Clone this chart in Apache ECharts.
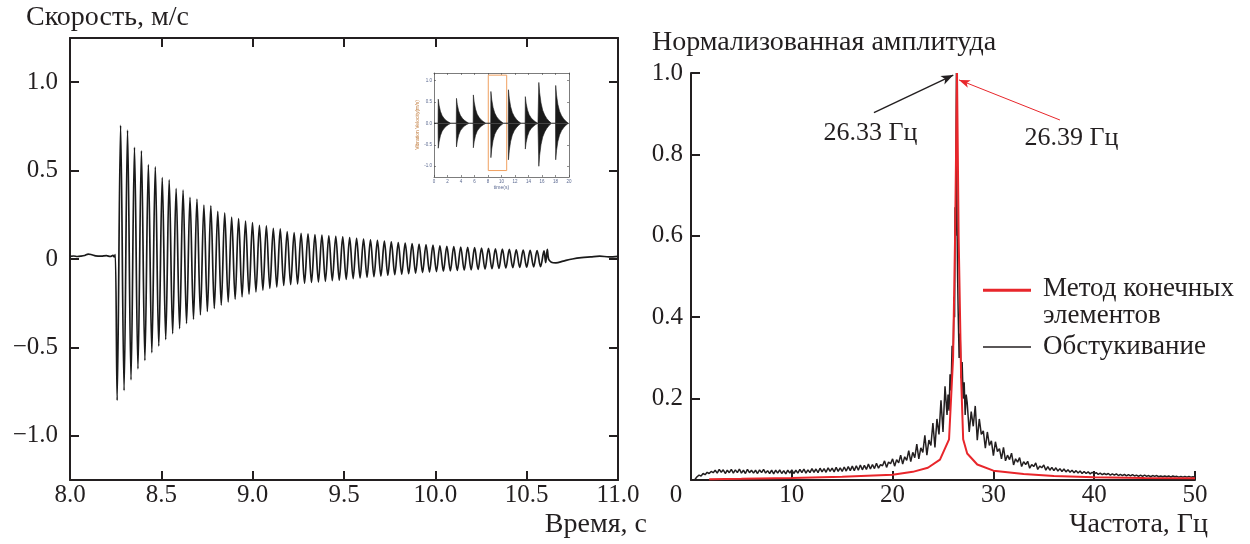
<!DOCTYPE html>
<html><head><meta charset="utf-8">
<script src="https://cdn.jsdelivr.net/npm/echarts@6/dist/echarts.min.js"></script>
<style>html,body{margin:0;padding:0;background:#fff}#c{width:1250px;height:544px}</style>
</head><body><div id="c"></div>
<script>
// ---------------- data: left panel (velocity, m/s vs time, s) ----------------
const velocityTicks = [-1.0, -0.5, 0, 0.5, 1.0];
const preImpact = [[8.0,0.015],[8.02,0.017],[8.04,0.014],[8.06,0.016],[8.08,0.02],[8.1,0.028],[8.12,0.024],[8.14,0.018],[8.17,0.016],[8.2,0.019],[8.22,0.014],[8.235,0.02],[8.242,0.012],[8.248,0.025]];
const firstExtremumTime = 8.258;   // first trough
const halfPeriod = 0.019;          // ~26.3 Hz ringing
const troughValues = [
 -0.800,-0.744,-0.684,-0.621,-0.574,-0.530,-0.492,-0.456,-0.422,-0.394,
 -0.365,-0.341,-0.316,-0.297,-0.280,-0.261,-0.243,-0.227,-0.214,-0.199,
 -0.186,-0.176,-0.166,-0.158,-0.150,-0.145,-0.141,-0.137,-0.133,-0.130,
 -0.126,-0.122,-0.119,-0.115,-0.111,-0.107,-0.103,-0.100,-0.096,-0.092,
 -0.089,-0.086,-0.083,-0.080,-0.077,-0.074,-0.071,-0.069,-0.067,-0.065,
 -0.063,-0.061,-0.059,-0.057,-0.055,-0.053,-0.051,-0.049,-0.047,-0.046,
 -0.044,-0.043];
const peakValues = [
 0.756,0.729,0.632,0.612,0.534,0.521,0.460,0.447,0.398,0.390,
 0.348,0.339,0.305,0.300,0.269,0.261,0.237,0.229,0.214,0.206,
 0.191,0.188,0.174,0.170,0.155,0.149,0.145,0.142,0.138,0.135,
 0.131,0.128,0.125,0.121,0.117,0.113,0.109,0.105,0.101,0.097,
 0.093,0.090,0.087,0.084,0.081,0.078,0.075,0.072,0.070,0.068,
 0.066,0.064,0.062,0.060,0.058,0.056,0.054,0.052,0.050,0.049,
 0.047,0.046];
const postImpact = [[10.604,-0.02],[10.613,0.055],[10.62,0.0],[10.635,-0.018],[10.66,-0.022],[10.7,-0.012],[10.75,0.0],[10.8,0.008],[10.85,0.012],[10.9,0.016],[10.95,0.012],[11.0,0.015]];

// ---------------- data: inset (original record, 0-20 s) ----------------
const insetVelTicks = [-1.0, -0.5, 0, 0.5, 1.0];
const insetBurstStart = [0.6, 3.3, 5.8, 8.4, 11.0, 13.5, 15.5, 18.0];
const insetBurstUp = [0.56, 0.58, 0.66, 0.74, 0.78, 0.62, 0.95, 0.88];
const insetBurstDown = [-0.58, -0.55, -0.57, -0.80, -0.85, -0.60, -1.00, -0.85];
const insetDecayShape = [[0,0],[0.03,1],[0.15,0.75],[0.35,0.5],[0.6,0.32],[0.9,0.2],[1.2,0.12],[1.5,0.06],[1.9,0.0]];
const insetWindow = [[8.04,1.12],[10.77,-1.10]];

// ---------------- data: right panel (normalized amplitude vs frequency) ----------------
const knockLowStart = 0.4, knockHighStart = 27.4, knockStep = 0.2;
const knockLow = [
 0.002,0.008,0.012,0.010,0.016,0.013,0.019,0.016,0.021,0.018,
 0.024,0.017,0.026,0.019,0.025,0.016,0.024,0.018,0.026,0.017,
 0.025,0.018,0.027,0.017,0.024,0.016,0.026,0.018,0.024,0.017,
 0.024,0.016,0.025,0.018,0.026,0.017,0.023,0.016,0.024,0.015,
 0.024,0.017,0.025,0.016,0.023,0.015,0.024,0.017,0.025,0.016,
 0.024,0.017,0.026,0.018,0.027,0.017,0.025,0.018,0.028,0.019,
 0.027,0.018,0.029,0.020,0.028,0.019,0.030,0.021,0.029,0.020,
 0.031,0.021,0.030,0.021,0.032,0.022,0.033,0.023,0.034,0.023,
 0.035,0.024,0.037,0.025,0.036,0.026,0.039,0.027,0.038,0.028,
 0.041,0.029,0.038,0.035,0.047,0.031,0.044,0.040,0.052,0.034,
 0.050,0.042,0.061,0.039,0.057,0.048,0.072,0.045,0.068,0.055,
 0.088,0.052,0.079,0.068,0.110,0.061,0.098,0.085,0.140,0.080,
 0.150,0.112,0.196,0.118,0.230,0.160];
const knockPeak = [[25.5,0.21],[25.6,0.17],[25.7,0.26],[25.8,0.22],[25.9,0.33],[26.0,0.30],[26.1,0.45],[26.15,0.40],[26.2,0.67],[26.25,0.60],[26.3,0.85],[26.33,1.0],[26.36,0.80],[26.4,0.62],[26.45,0.50],[26.5,0.42],[26.6,0.30],[26.7,0.36],[26.8,0.25],[26.9,0.29],[27.0,0.20],[27.1,0.24],[27.2,0.16],[27.3,0.21]];
const knockHigh = [
 0.190,0.118,0.168,0.132,0.182,0.098,0.150,0.112,0.121,0.078,
 0.118,0.085,0.096,0.060,0.094,0.070,0.077,0.052,0.080,0.047,
 0.061,0.050,0.066,0.037,0.052,0.044,0.055,0.033,0.045,0.038,
 0.046,0.029,0.038,0.033,0.042,0.026,0.034,0.030,0.037,0.024,
 0.033,0.024,0.031,0.023,0.030,0.022,0.028,0.021,0.027,0.020,
 0.025,0.019,0.024,0.018,0.023,0.017,0.022,0.016,0.021,0.016,
 0.020,0.015,0.019,0.015,0.018,0.014,0.017,0.013,0.016,0.013,
 0.016,0.012,0.015,0.012,0.015,0.011,0.014,0.011,0.014,0.010,
 0.013,0.010,0.013,0.010,0.012,0.009,0.012,0.009,0.012,0.009,
 0.011,0.008,0.011,0.009,0.011,0.008,0.010,0.008,0.010,0.008,
 0.010,0.007,0.010,0.008,0.009,0.007,0.009,0.007,0.009,0.007,
 0.009,0.007,0.008,0.007];
const femSpectrum = [[1.8,0.002],[5,0.003],[10,0.005],[15,0.008],[20,0.013],[22,0.02],[23.5,0.03],[24.7,0.05],[25.6,0.1],[26.0,0.3],[26.2,0.6],[26.39,1.0],[26.55,0.6],[26.8,0.25],[27.0,0.1],[27.4,0.065],[28.4,0.038],[30,0.023],[33,0.015],[36,0.01],[40,0.007],[45,0.005],[50,0.004]];
const peakNotes = [
  {text:'26.33 Гц', from:[18.15,0.9025], to:[26.02,0.995], at:[17.81,0.8526]},
  {text:'26.39 Гц', from:[36.6,0.8845], to:[26.59,0.983], at:[37.75,0.840]}
];
const seriesNames = ['Метод конечных элементов', 'Обстукивание'];

// ---------------- build ----------------
const FONT = 'Liberation Serif';
const INK = '#231f20';
const RED = '#e8262b';

const velocityData = [];
preImpact.forEach(p => velocityData.push(p));
for (let i = 0; i < troughValues.length; i++) {
  velocityData.push([firstExtremumTime + 2*i*halfPeriod, troughValues[i]]);
  velocityData.push([firstExtremumTime + (2*i+1)*halfPeriod, peakValues[i]]);
}
postImpact.forEach(p => velocityData.push(p));

function insetEnvelope(amps) {
  const pts = [[0,0]];
  insetBurstStart.forEach((s,k) => insetDecayShape.forEach(([dt,r]) => pts.push([s+dt, amps[k]*r])));
  pts.push([20,0]);
  return pts;
}

const knockData = [];
knockLow.forEach((v,i) => knockData.push([knockLowStart + i*knockStep, v]));
knockPeak.forEach(p => knockData.push(p));
knockHigh.forEach((v,i) => knockData.push([knockHighStart + i*knockStep, v]));

function velLabel(v) {
  if (Math.abs(v) < 1e-9) return '0';
  return (v < 0 ? '\u2212' : '') + Math.abs(v).toFixed(1);
}

const tickFont = {fontFamily: FONT, fontSize: 25, color: INK};
const axisLine = {show: true, onZero: false, lineStyle: {color: INK, width: 2}};
const axisTick = {show: true, inside: true, length: 9, lineStyle: {color: INK, width: 2}};
const insetLine = {show: true, onZero: false, lineStyle: {color: '#444', width: 0.7}};
const insetTick = {show: true, inside: true, length: 2, lineStyle: {color: '#444', width: 0.6}};
const insetFont = {fontFamily: 'Liberation Sans', fontSize: 4.5, color: '#5a6890', margin: 2};

const titleBase = {padding: 0, textStyle: {fontFamily: FONT, fontSize: 28, fontWeight: 'normal', color: INK}};
const legendText = {fontFamily: FONT, fontSize: 27, lineHeight: 27, color: INK, padding: [0,0,0,7]};

const option = {
  animation: false,
  backgroundColor: '#fff',
  title: [
    Object.assign({text: 'Скорость, м/с', left: 26, top: 4}, titleBase),
    Object.assign({text: 'Нормализованная амплитуда', left: 652, top: 29}, titleBase),
    Object.assign({text: 'Время, с', right: 603, top: 511}, titleBase),
    Object.assign({text: 'Частота, Гц', right: 42, top: 511}, titleBase)
  ],
  legend: [
    {
      data: [{name: seriesNames[0], icon: 'path://M0,13.8L48,13.8L48,16.8L0,16.8Z M0,0L0.05,0L0.05,0.05Z M0,54L0.05,54L0.05,53.95Z'}],
      left: 983, top: 275, padding: 0, orient: 'vertical', selectedMode: false,
      itemWidth: 48, itemHeight: 54, itemStyle: {borderWidth: 0},
      formatter: n => n.replace(' элементов', '\nэлементов'),
      textStyle: legendText
    },
    {
      data: [{name: seriesNames[1], icon: 'rect'}],
      left: 983, top: 333.5, padding: 0, selectedMode: false,
      itemWidth: 48, itemHeight: 1.5, itemStyle: {borderWidth: 0},
      textStyle: legendText
    }
  ],
  grid: [
    {left: 70, top: 38, width: 548, height: 442},
    {left: 691, top: 73, width: 504, height: 407},
    {left: 434, top: 73, width: 135, height: 104}
  ],
  xAxis: [
    {gridIndex: 0, type: 'value', min: 8, max: 11, interval: 0.5, position: 'bottom',
     axisLine, axisTick, splitLine: {show: false},
     axisLabel: Object.assign({margin: 3, formatter: v => v.toFixed(1)}, tickFont)},
    {gridIndex: 0, type: 'value', min: 8, max: 11, interval: 0.5, position: 'top',
     axisLine, axisTick, splitLine: {show: false}, axisLabel: {show: false}},
    {gridIndex: 1, type: 'value', min: 0, max: 50, interval: 10, position: 'bottom',
     axisLine, axisTick, splitLine: {show: false},
     axisLabel: Object.assign({margin: 3, formatter: v => v === 0 ? '{z|0}' : String(v),
       rich: {z: {fontFamily: FONT, fontSize: 25, color: INK, padding: [0, 30, 0, 0]}}}, tickFont)},
    {gridIndex: 2, type: 'value', min: 0, max: 20, interval: 2, position: 'bottom',
     axisLine: insetLine, axisTick: insetTick, splitLine: {show: false}, axisLabel: insetFont,
     name: 'time(s)', nameLocation: 'middle', nameGap: 8,
     nameTextStyle: {fontFamily: 'Liberation Sans', fontSize: 5, color: '#5a6890'}},
    {gridIndex: 2, type: 'value', min: 0, max: 20, interval: 2, position: 'top',
     axisLine: insetLine, axisTick: insetTick, splitLine: {show: false}, axisLabel: {show: false}}
  ],
  yAxis: [
    {gridIndex: 0, type: 'value', min: -1.25, max: 1.25, position: 'left',
     axisLine, axisTick: Object.assign({customValues: velocityTicks}, axisTick), splitLine: {show: false},
     axisLabel: Object.assign({margin: 12, customValues: velocityTicks, formatter: velLabel}, tickFont)},
    {gridIndex: 0, type: 'value', min: -1.25, max: 1.25, position: 'right',
     axisLine, axisTick: Object.assign({customValues: velocityTicks}, axisTick), splitLine: {show: false},
     axisLabel: {show: false}},
    {gridIndex: 1, type: 'value', min: 0, max: 1, interval: 0.2, position: 'left',
     axisLine, axisTick, splitLine: {show: false},
     axisLabel: Object.assign({margin: 8, formatter: v => v === 0 ? '' : v.toFixed(1)}, tickFont)},
    {gridIndex: 2, type: 'value', min: -1.25, max: 1.17, position: 'left',
     axisLine: insetLine, axisTick: Object.assign({customValues: insetVelTicks}, insetTick), splitLine: {show: false},
     axisLabel: Object.assign({customValues: insetVelTicks, formatter: v => v.toFixed(1)}, insetFont),
     name: 'Vibration Velocity(m/s)', nameLocation: 'middle', nameGap: 13, nameRotate: 90,
     nameTextStyle: {fontFamily: 'Liberation Sans', fontSize: 5, color: '#c07a3a'}},
    {gridIndex: 2, type: 'value', min: -1.25, max: 1.17, position: 'right',
     axisLine: insetLine, axisTick: Object.assign({customValues: insetVelTicks}, insetTick), splitLine: {show: false},
     axisLabel: {show: false}}
  ],
  series: [
    {type: 'line', name: 'velocity', xAxisIndex: 0, yAxisIndex: 0, data: velocityData,
     showSymbol: false, smooth: 0.35, lineStyle: {color: '#1a1a1a', width: 1.7}, silent: true},
    {type: 'line', name: 'insetUp', xAxisIndex: 3, yAxisIndex: 3, data: insetEnvelope(insetBurstUp),
     showSymbol: false, lineStyle: {color: '#1a1a1a', width: 0.6}, areaStyle: {color: '#1a1a1a', opacity: 1}, silent: true,
     markArea: {silent: true, itemStyle: {color: 'rgba(0,0,0,0)', borderColor: '#f0a060', borderWidth: 1},
       data: [[{coord: insetWindow[0]}, {coord: insetWindow[1]}]]}},
    {type: 'line', name: 'insetDown', xAxisIndex: 3, yAxisIndex: 3, data: insetEnvelope(insetBurstDown),
     showSymbol: false, lineStyle: {color: '#1a1a1a', width: 0.6}, areaStyle: {color: '#1a1a1a', opacity: 1}, silent: true},
    {type: 'line', name: seriesNames[1], xAxisIndex: 2, yAxisIndex: 2, data: knockData, color: INK,
     showSymbol: false, lineStyle: {color: INK, width: 1.5}, silent: true,
     markLine: {silent: true, symbol: ['none', 'arrow'], symbolSize: [7, 12], label: {show: false},
       lineStyle: {color: INK, width: 1.4, type: 'solid'}, emphasis: {disabled: true},
       data: [[{coord: peakNotes[0].from}, {coord: peakNotes[0].to}]]},
     markPoint: {silent: true, symbol: 'circle', symbolSize: 0,
       label: {show: true, position: 'inside', formatter: peakNotes[0].text, fontFamily: FONT, fontSize: 26, color: INK},
       data: [{coord: peakNotes[0].at}]}},
    {type: 'line', name: seriesNames[0], xAxisIndex: 2, yAxisIndex: 2, data: femSpectrum, color: RED,
     showSymbol: false, lineStyle: {color: RED, width: 2}, silent: true,
     markLine: {silent: true, symbol: ['none', 'arrow'], symbolSize: [6, 11], label: {show: false},
       lineStyle: {color: RED, width: 1, type: 'solid'}, emphasis: {disabled: true},
       data: [[{coord: peakNotes[1].from}, {coord: peakNotes[1].to}]]},
     markPoint: {silent: true, symbol: 'circle', symbolSize: 0,
       label: {show: true, position: 'inside', formatter: peakNotes[1].text, fontFamily: FONT, fontSize: 26, color: INK},
       data: [{coord: peakNotes[1].at}]}}
  ]
};
const chart = echarts.init(document.getElementById('c'), null, {renderer: 'canvas'});
chart.setOption(option);
</script>
</body></html>
